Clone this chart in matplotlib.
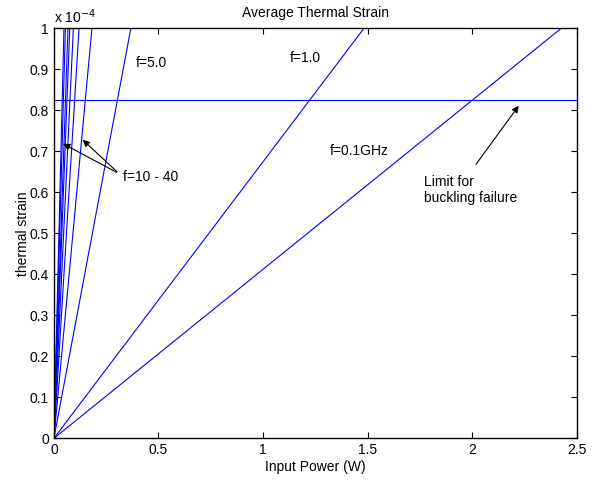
import matplotlib
matplotlib.use("Agg")
import matplotlib.pyplot as plt
import numpy as np
from matplotlib.ticker import FuncFormatter, MultipleLocator

plt.rcParams['font.family'] = ['Liberation Sans', 'DejaVu Sans']

# frequencies (GHz) and strain per watt
freqs = [0.1, 1.0, 5.0, 10, 15, 20, 25, 30, 35, 40]
strain_per_watt = [4.125e-5, 6.75e-5, 2.72e-4, 5.5e-4, 8.33e-4,
                   1.075e-3, 1.32e-3, 1.49e-3, 1.82e-3, 2.08e-3]
buckling_limit = 0.825e-4
power = [0.0, 2.5]

fig = plt.figure(figsize=(5.99, 4.83), dpi=100)
ax = fig.add_axes([0.090, 0.0925, 0.873, 0.8485])

for f, s in zip(freqs, strain_per_watt):
    ax.plot(power, [s * p for p in power], color=(0, 0, 1), lw=0.8)
ax.plot(power, [buckling_limit, buckling_limit], color=(0, 0, 1), lw=0.8)

ax.set_xlim(0, 2.5)
ax.set_ylim(0, 1e-4)
ax.xaxis.set_major_locator(MultipleLocator(0.5))
ax.yaxis.set_major_locator(MultipleLocator(0.1e-4))
ax.xaxis.set_major_formatter(FuncFormatter(lambda v, p: f"{v:g}"))
ax.yaxis.set_major_formatter(FuncFormatter(lambda v, p: f"{round(v / 1e-4, 3):g}"))
ax.tick_params(direction='in', top=True, right=True, labelsize=10, length=4, width=0.8)
for sp in ax.spines.values():
    sp.set_linewidth(1.0)

ax.text(0.0, 1.005, "x 10$^{-4}$", transform=ax.transAxes, fontsize=10,
        ha='left', va='bottom')
ax.set_title("Average Thermal Strain", fontsize=10, pad=8)
ax.set_xlabel("Input Power (W)", fontsize=10, labelpad=2)
ax.set_ylabel("thermal strain", fontsize=10, labelpad=0)

ax.text(0.39, 0.917e-4, "f=5.0", fontsize=10, va='center', ha='left')
ax.text(1.128, 0.928e-4, "f=1.0", fontsize=10, va='center', ha='left')
ax.text(1.32, 0.70e-4, "f=0.1GHz", fontsize=10, va='center', ha='left')
ax.text(0.33, 0.637e-4, "f=10 - 40", fontsize=10, va='center', ha='left')
ax.text(1.77, 0.606e-4, "Limit for\nbuckling failure", fontsize=10,
        va='center', ha='left', linespacing=1.25)

arrow = dict(arrowstyle='-|>', color='black', lw=0.8, mutation_scale=10)
ax.annotate("", xy=(0.032, 0.722e-4), xytext=(0.311, 0.646e-4), arrowprops=arrow)
ax.annotate("", xy=(0.128, 0.733e-4), xytext=(0.311, 0.646e-4), arrowprops=arrow)
ax.annotate("", xy=(2.23, 0.817e-4), xytext=(2.01, 0.663e-4), arrowprops=arrow)

fig.savefig("out.png", dpi=100)
